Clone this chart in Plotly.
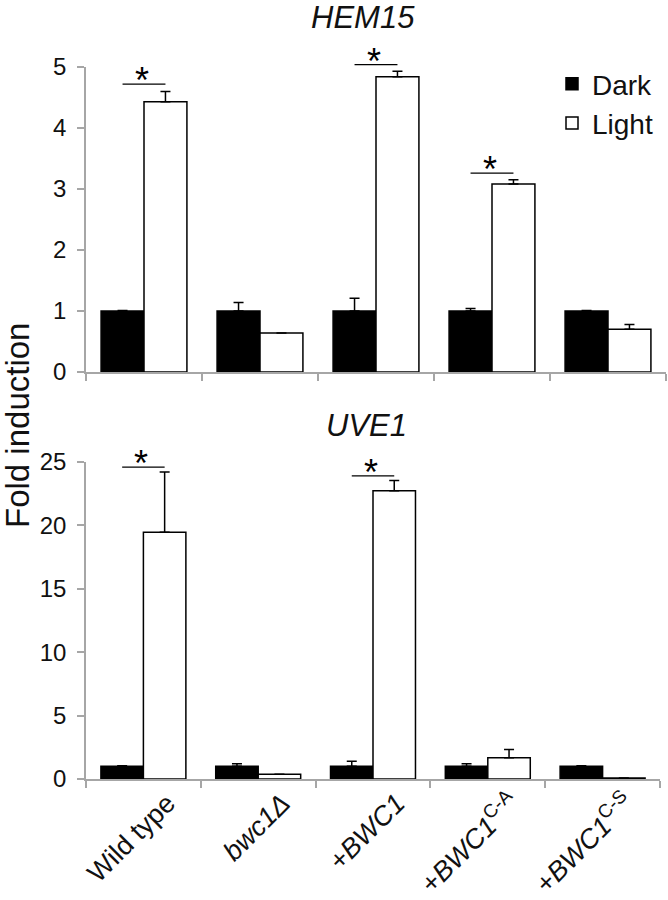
import plotly.graph_objects as go
from plotly.subplots import make_subplots

# ---------------- data ----------------
categories = ["Wild type", "bwc1Δ", "+BWC1", "+BWC1 C-A", "+BWC1 C-S"]
tick_labels = ["Wild type", "<i>bwc1Δ</i>", "+<i>BWC1</i>",
               "+<i>BWC1</i><sup>C-A</sup>", "+<i>BWC1</i><sup>C-S</sup>"]
series_names = ["Dark", "Light"]

hem15_dark = [1.0, 1.0, 1.0, 1.0, 1.0]
hem15_dark_err = [0.01, 0.14, 0.21, 0.04, 0.01]
hem15_light = [4.43, 0.64, 4.84, 3.08, 0.70]
hem15_light_err = [0.17, 0.0, 0.09, 0.07, 0.08]
hem15_sig = [4.72, None, 5.04, 3.26, None]

uve1_dark = [1.0, 1.0, 1.0, 1.0, 1.0]
uve1_dark_err = [0.04, 0.2, 0.39, 0.2, 0.04]
uve1_light = [19.45, 0.37, 22.74, 1.68, 0.08]
uve1_light_err = [4.76, 0.0, 0.8, 0.65, 0.0]
uve1_sig = [24.6, None, 23.9, None, None]

panel_titles = ["HEM15", "UVE1"]
y_title = "Fold induction"
y_ranges = [[0, 5], [0, 25]]
y_dticks = [1, 5]

# ---------------- layout constants ----------------
W, H = 668, 900
L, R, T, B = 86, 2, 67, 900 - 779
BARGAP = 0.26
FONT = "Liberation Sans, Arial, sans-serif"
AXIS_GRAY = "#a6a6a6"
TEXT = "#111111"

plot_w = W - L - R
plot_h = H - T - B


def py(pix):
    return (H - B - pix) / plot_h


def px(pix):
    return (pix - L) / plot_w


x_domains = [[0, 1], [0, px(660)]]
y_domains = [[py(372), 1.0], [0, py(462)]]

fig = make_subplots(rows=2, cols=1)

panels = [
    (hem15_dark, hem15_dark_err, hem15_light, hem15_light_err, hem15_sig),
    (uve1_dark, uve1_dark_err, uve1_light, uve1_light_err, uve1_sig),
]

n_cat = len(categories)
half = (1 - BARGAP) / 4.0

for k, (dk, dke, lt, lte, sig) in enumerate(panels):
    r = k + 1
    fig.add_trace(go.Bar(
        x=categories, y=dk, name=series_names[0], showlegend=(r == 1),
        marker=dict(color="black", line=dict(color="black", width=1.5)),
        error_y=dict(type="data", symmetric=False, array=dke,
                     arrayminus=[0] * len(dke), color="black",
                     thickness=1.5, width=5),
    ), row=r, col=1)
    fig.add_trace(go.Bar(
        x=categories, y=lt, name=series_names[1], showlegend=(r == 1),
        marker=dict(color="white", line=dict(color="black", width=1.5)),
        error_y=dict(type="data", symmetric=False, array=lte,
                     arrayminus=[0] * len(lte), color="black",
                     thickness=1.5, width=5),
    ), row=r, col=1)

    # data -> paper mapping (same linear scales as the axes)
    xd0, xd1 = x_domains[k]
    yd0, yd1 = y_domains[k]
    r0, r1 = y_ranges[k]

    def xp(c, xd0=xd0, xd1=xd1):
        return xd0 + (c + 0.5) / n_cat * (xd1 - xd0)

    def yp(v, yd0=yd0, yd1=yd1, r0=r0, r1=r1):
        return yd0 + (v - r0) / (r1 - r0) * (yd1 - yd0)

    for i, s in enumerate(sig):
        if s is None:
            continue
        fig.add_shape(type="line", xref="paper", yref="paper",
                      x0=xp(i - half), x1=xp(i + half), y0=yp(s), y1=yp(s),
                      line=dict(color="black", width=1.2))
        fig.add_annotation(x=xp(i - 0.02), y=yp(s), xref="paper", yref="paper",
                           text="*", showarrow=False, xanchor="center",
                           yanchor="bottom", yshift=-19,
                           font=dict(family=FONT, size=36, color="black"))

common_x = dict(showline=True, linecolor=AXIS_GRAY, linewidth=1.5,
                ticks="outside", tickson="boundaries", ticklen=7,
                tickcolor=AXIS_GRAY, tickwidth=1.5, showgrid=False,
                zeroline=False, type="category", automargin=False,
                categoryorder="array", categoryarray=categories)
common_y = dict(showline=True, linecolor=AXIS_GRAY, linewidth=1.5,
                ticks="outside", ticklen=7, tickcolor=AXIS_GRAY,
                tickwidth=1.5, showgrid=False, zeroline=False,
                automargin=False,
                tickfont=dict(family=FONT, size=24, color=TEXT),
                ticklabelstandoff=6)

fig.update_layout(
    template="none",
    xaxis=dict(**common_x, domain=x_domains[0], showticklabels=False),
    xaxis2=dict(**common_x, domain=x_domains[1], showticklabels=True,
                tickvals=categories, ticktext=tick_labels, tickangle=-45,
                ticklabelshift=24, ticklabelstandoff=-4,
                tickfont=dict(family=FONT, size=27, color=TEXT)),
    yaxis=dict(**common_y, domain=y_domains[0], range=y_ranges[0],
               dtick=y_dticks[0]),
    yaxis2=dict(**common_y, domain=y_domains[1], range=y_ranges[1],
                dtick=y_dticks[1]),
    barmode="group", bargap=BARGAP, bargroupgap=0,
    width=W, height=H, margin=dict(l=L, r=R, t=T, b=B, autoexpand=False),
    plot_bgcolor="white", paper_bgcolor="white",
    font=dict(family=FONT, color=TEXT),
    legend=dict(x=px(552), y=py(59), xanchor="left", yanchor="top",
                font=dict(family=FONT, size=28, color=TEXT),
                bgcolor="rgba(0,0,0,0)", tracegroupgap=0),
    showlegend=True,
)

fig.add_annotation(text="<i>%s</i>" % panel_titles[0], xref="paper", yref="paper",
                   x=px(363), y=py(17), showarrow=False,
                   xanchor="center", yanchor="middle",
                   font=dict(family=FONT, size=31, color=TEXT))
fig.add_annotation(text="<i>%s</i>" % panel_titles[1], xref="paper", yref="paper",
                   x=px(366), y=py(425), showarrow=False,
                   xanchor="center", yanchor="middle",
                   font=dict(family=FONT, size=31, color=TEXT))
fig.add_annotation(text=y_title, xref="paper", yref="paper",
                   x=px(17), y=py(426), showarrow=False, textangle=-90,
                   xanchor="center", yanchor="middle",
                   font=dict(family=FONT, size=33, color=TEXT))

# remove the browser's default 8px body margin so the figure fills the window
fig.write_html("out.html",
               config={"displayModeBar": False},
               post_script="document.body.style.margin='0px';"
                           "document.body.style.padding='0px';")
